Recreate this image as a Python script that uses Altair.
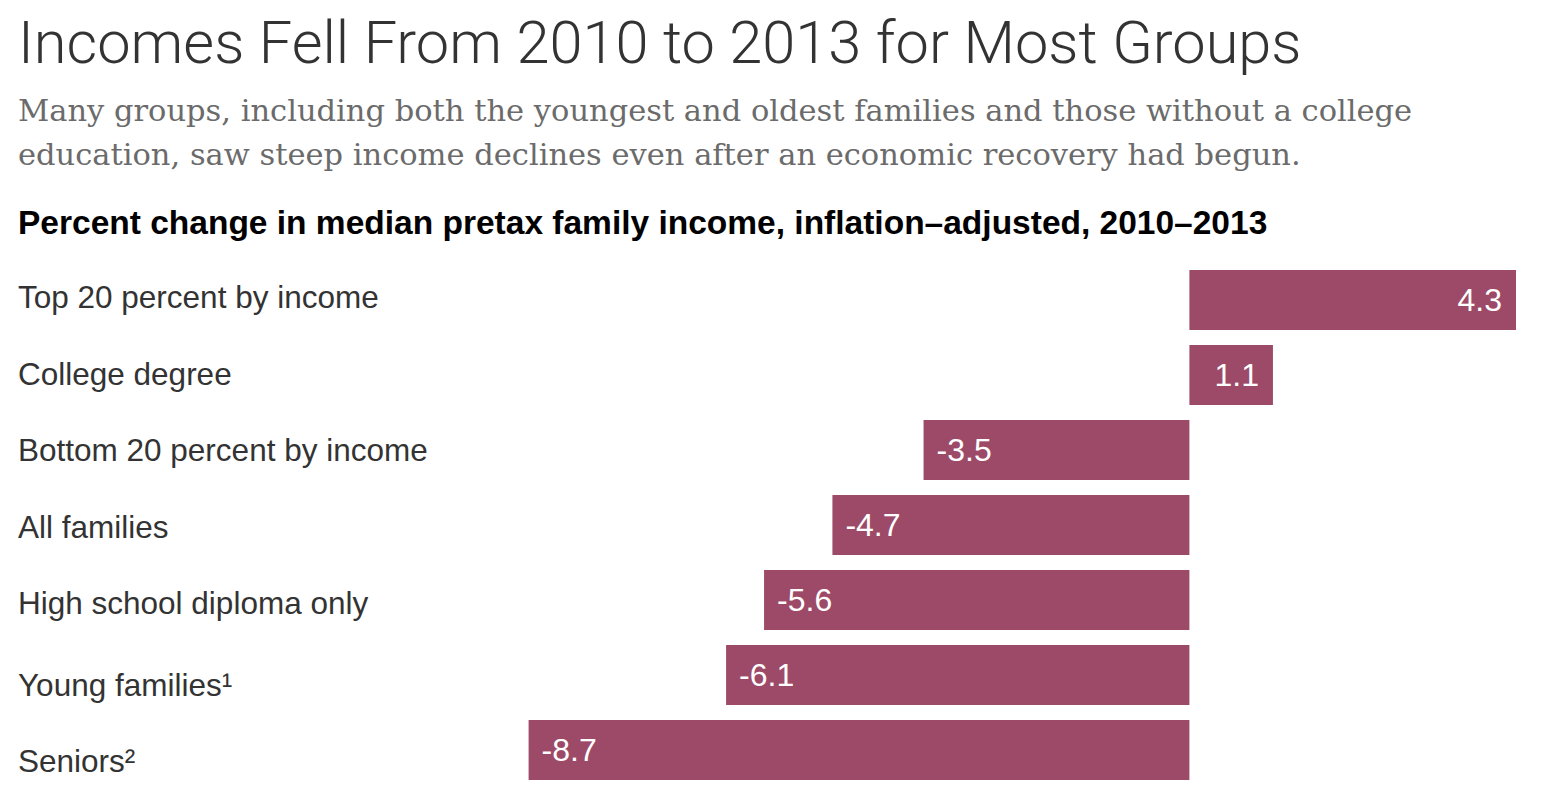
import altair as alt
import pandas as pd

# ---- data -------------------------------------------------------------
categories = [
    "Top 20 percent by income",
    "College degree",
    "Bottom 20 percent by income",
    "All families",
    "High school diploma only",
    "Young families",
    "Seniors",
]
values = [4.3, 1.1, -3.5, -4.7, -5.6, -6.1, -8.7]
footnotes = ["", "", "", "", "", "1", "2"]

title_text = "Incomes Fell From 2010 to 2013 for Most Groups"
subtitle_lines = [
    "Many groups, including both the youngest and oldest families and those without a college",
    "education, saw steep income declines even after an economic recovery had begun.",
]
heading_text = "Percent change in median pretax family income, inflation\u2013adjusted, 2010\u20132013"

sup = {"": "", "1": "\u00b9", "2": "\u00b2"}
df = pd.DataFrame({"group": categories, "value": values, "note": footnotes})
df["label"] = [c + sup[n] for c, n in zip(categories, footnotes)]
df["hasnote"] = df["note"] != ""
df["vtext"] = [f"{v:.1f}" for v in values]

LABEL_FONT = "Liberation Sans"
BAR_COLOR = "#9d4a68"

y_enc = alt.Y(
    "group:N",
    sort=categories,
    axis=None,
    scale=alt.Scale(range=[254.5, 779.5], paddingInner=0.2, paddingOuter=0.1),
)
y_lab = alt.Y(
    "group:N",
    sort=categories,
    axis=None,
    scale=alt.Scale(type="point", range=[291, 750], padding=0),
)
x_scale = alt.Scale(domain=[-8.7, 4.3], range=[520.6, 1508], nice=False, zero=False)

base = alt.Chart(df)

bars = base.mark_bar(color=BAR_COLOR).encode(
    x=alt.X("value:Q", axis=None, scale=x_scale),
    x2=alt.datum(0),
    y=y_enc,
)

pos_vals = base.transform_filter("datum.value > 0").mark_text(
    align="right", baseline="middle", dx=-14, dy=1, color="white",
    font=LABEL_FONT, fontSize=32,
).encode(
    x=alt.X("value:Q", scale=x_scale),
    y=y_enc,
    text="vtext:N",
)

neg_vals = base.transform_filter("datum.value < 0").mark_text(
    align="left", baseline="middle", dx=13, dy=1, color="white",
    font=LABEL_FONT, fontSize=32,
).encode(
    x=alt.X("value:Q", scale=x_scale),
    y=y_enc,
    text="vtext:N",
)

values_layer = alt.layer(bars, pos_vals, neg_vals)

labels_plain = base.transform_filter("!datum.hasnote").mark_text(
    align="left", baseline="middle", dy=0, color="#333333",
    font=LABEL_FONT, fontSize=31.5,
).encode(x=alt.value(10), y=y_lab, text="label:N")

labels_note = base.transform_filter("datum.hasnote").mark_text(
    align="left", baseline="middle", dy=5, color="#333333",
    font=LABEL_FONT, fontSize=31.5,
).encode(x=alt.value(10), y=y_lab, text="label:N")

labels_layer = alt.layer(labels_plain, labels_note)


def text_line(txt, y, **kw):
    return alt.Chart(pd.DataFrame({"t": [txt]})).mark_text(
        align="left", baseline="alphabetic", **kw
    ).encode(x=alt.value(10), y=alt.value(y), text="t:N")


title = text_line(title_text, 55, font="Roboto", fontWeight=300, fontSize=59.5, color="#333333")
sub1 = text_line(subtitle_lines[0], 113, font="DejaVu Serif", fontSize=30.5, color="#6b6b6b")
sub2 = text_line(subtitle_lines[1], 157, font="DejaVu Serif", fontSize=30.5, color="#6b6b6b")
heading = text_line(heading_text, 226, font=LABEL_FONT, fontWeight="bold", fontSize=33.5, color="#000000")

chart = alt.layer(
    values_layer, labels_layer, title, sub1, sub2, heading
).resolve_scale(y="independent").properties(
    width=1530,
    height=784,
    autosize=alt.AutoSizeParams(type="none"),
    padding=0,
    background="white",
).configure_view(stroke=None)

chart.save("out.html", embed_options={"renderer": "svg", "actions": False})
